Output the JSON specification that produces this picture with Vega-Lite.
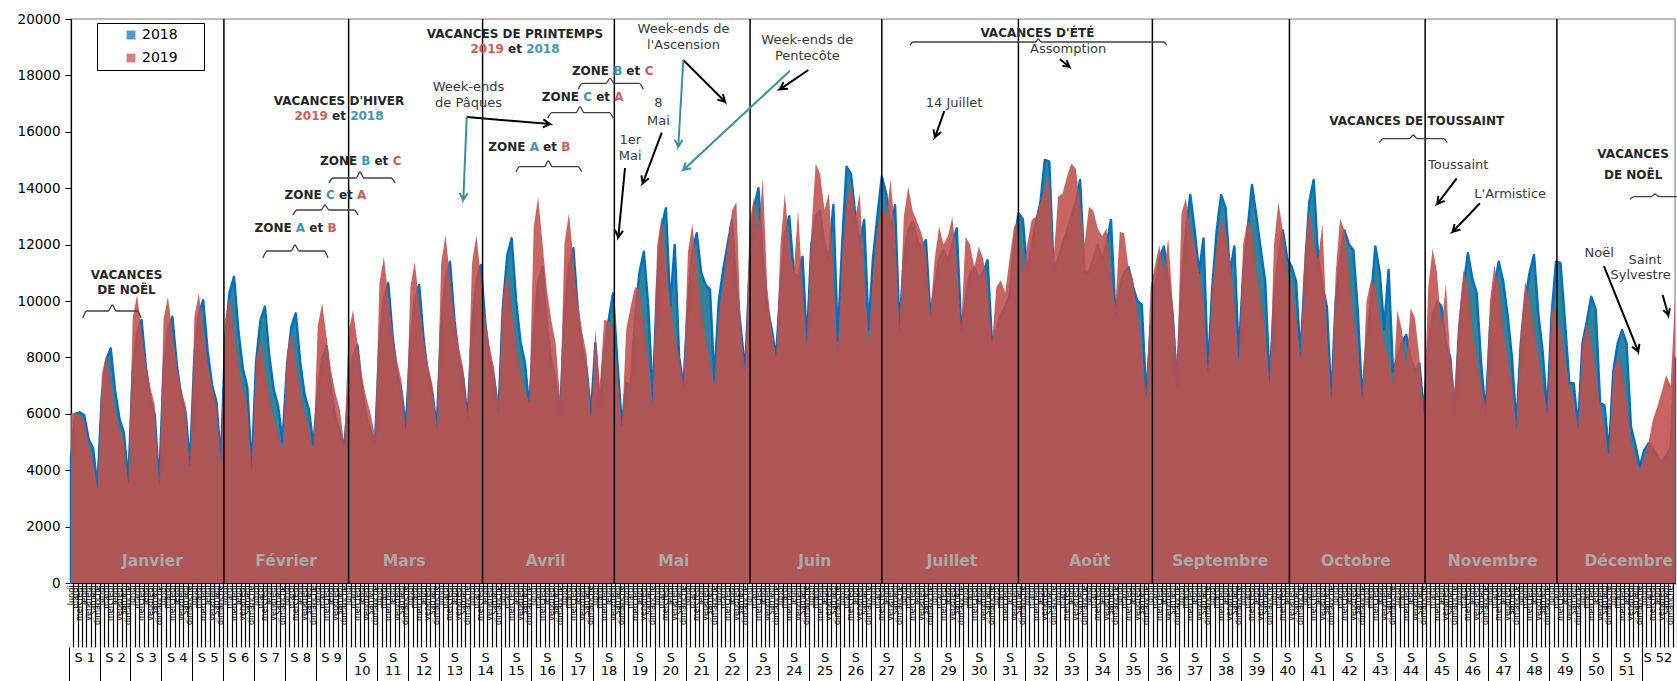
{
"$schema":"https://vega.github.io/schema/vega-lite/v6.json",
"width":1604,"height":564,
"autosize":{"type":"none"},
"padding":{"left":71,"top":19,"right":2,"bottom":98},
"background":"white",
"config":{"view":{"stroke":"#A6A6A6","strokeWidth":1.5},"font":"DejaVu Sans"},
"datasets":{
"s":[
{"d":0,"a":4480,"b":6000},{"d":1,"a":6000,"b":6050},{"d":2,"a":6050,"b":5950},{"d":3,"a":5950,"b":5800},{"d":4,"a":5100,"b":4950},{"d":5,"a":4780,"b":4300},{"d":6,"a":3400,"b":3300},
{"d":7,"a":6660,"b":7430},{"d":8,"a":7900,"b":8080},{"d":9,"a":8320,"b":7110},{"d":10,"a":6820,"b":6140},{"d":11,"a":5820,"b":5490},{"d":12,"a":5320,"b":5010},{"d":13,"a":3600,"b":3500},
{"d":14,"a":7460,"b":9390},{"d":15,"a":8860,"b":10210},{"d":16,"a":9330,"b":8980},{"d":17,"a":7650,"b":7760},{"d":18,"a":6530,"b":6940},{"d":19,"a":5970,"b":6330},{"d":20,"a":3500,"b":3400},
{"d":21,"a":7550,"b":9340},{"d":22,"a":8970,"b":10150},{"d":23,"a":9440,"b":8930},{"d":24,"a":7740,"b":7710},{"d":25,"a":6610,"b":6900},{"d":26,"a":6040,"b":6290},{"d":27,"a":4200,"b":4000},
{"d":28,"a":8020,"b":9450},{"d":29,"a":9530,"b":10270},{"d":30,"a":10030,"b":9040},{"d":31,"a":8220,"b":7810},{"d":32,"a":7020,"b":6980},{"d":33,"a":6420,"b":6370},{"d":34,"a":4300,"b":4300},
{"d":35,"a":8690,"b":9340},{"d":36,"a":10320,"b":10150},{"d":37,"a":10860,"b":8930},{"d":38,"a":8910,"b":7710},{"d":39,"a":7600,"b":6900},{"d":40,"a":6950,"b":6290},{"d":41,"a":4000,"b":4100},
{"d":42,"a":7840,"b":7930},{"d":43,"a":9310,"b":8620},{"d":44,"a":9800,"b":7590},{"d":45,"a":8040,"b":6550},{"d":46,"a":6860,"b":5860},{"d":47,"a":6270,"b":5340},{"d":48,"a":5000,"b":4700},
{"d":49,"a":7650,"b":8190},{"d":50,"a":9080,"b":8900},{"d":51,"a":9560,"b":7830},{"d":52,"a":7840,"b":6760},{"d":53,"a":6690,"b":6050},{"d":54,"a":6120,"b":5520},{"d":55,"a":4900,"b":4700},
{"d":56,"a":6720,"b":9130},{"d":57,"a":7980,"b":9920},{"d":58,"a":8400,"b":8730},{"d":59,"a":6890,"b":7540},{"d":60,"a":5880,"b":6750},{"d":61,"a":5380,"b":6150},{"d":62,"a":4800,"b":4900},
{"d":63,"a":6750,"b":8910},{"d":64,"a":8020,"b":9680},{"d":65,"a":8440,"b":8520},{"d":66,"a":6920,"b":7360},{"d":67,"a":5910,"b":6580},{"d":68,"a":5400,"b":6000},{"d":69,"a":5000,"b":5200},
{"d":70,"a":8500,"b":10640},{"d":71,"a":10100,"b":11570},{"d":72,"a":10630,"b":10180},{"d":73,"a":8720,"b":8790},{"d":74,"a":7440,"b":7870},{"d":75,"a":6800,"b":7170},{"d":76,"a":5500,"b":5300},
{"d":77,"a":8460,"b":10480},{"d":78,"a":10040,"b":11390},{"d":79,"a":10570,"b":10020},{"d":80,"a":8670,"b":8660},{"d":81,"a":7400,"b":7750},{"d":82,"a":6760,"b":7060},{"d":83,"a":5500,"b":5600},
{"d":84,"a":9110,"b":11350},{"d":85,"a":10820,"b":12340},{"d":86,"a":11390,"b":10860},{"d":87,"a":9340,"b":9380},{"d":88,"a":7970,"b":8390},{"d":89,"a":7290,"b":7650},{"d":90,"a":5800,"b":6000},
{"d":91,"a":9020,"b":11350},{"d":92,"a":10720,"b":12340},{"d":93,"a":11280,"b":10860},{"d":94,"a":9250,"b":9380},{"d":95,"a":7900,"b":8390},{"d":96,"a":7220,"b":7650},{"d":97,"a":6000,"b":6400},
{"d":98,"a":9780,"b":10160},{"d":99,"a":11610,"b":11040},{"d":100,"a":12220,"b":9720},{"d":101,"a":10020,"b":8390},{"d":102,"a":8550,"b":7510},{"d":103,"a":7820,"b":6840},{"d":104,"a":6200,"b":6400},
{"d":105,"a":8980,"b":12600},{"d":106,"a":10660,"b":13700},{"d":107,"a":11220,"b":12060},{"d":108,"a":9200,"b":10410},{"d":109,"a":7850,"b":9320},{"d":110,"a":7180,"b":8490},{"d":111,"a":6000,"b":6500},
{"d":112,"a":9500,"b":12060},{"d":113,"a":11280,"b":13110},{"d":114,"a":11870,"b":11540},{"d":115,"a":9730,"b":9960},{"d":116,"a":8310,"b":8910},{"d":117,"a":7600,"b":8130},{"d":118,"a":6000,"b":5800},
{"d":119,"a":8500,"b":9000},{"d":120,"a":6200,"b":7000},{"d":121,"a":8200,"b":9330},{"d":122,"a":9300,"b":9300},{"d":123,"a":10270,"b":9000},{"d":124,"a":7800,"b":7500},{"d":125,"a":5600,"b":5500},
{"d":126,"a":7100,"b":9000},{"d":127,"a":7000,"b":9800},{"d":128,"a":9440,"b":10500},{"d":129,"a":11000,"b":10400},{"d":130,"a":11750,"b":9000},{"d":131,"a":9800,"b":8000},{"d":132,"a":6500,"b":6300},
{"d":133,"a":10600,"b":11950},{"d":134,"a":12600,"b":12990},{"d":135,"a":13290,"b":11430},{"d":136,"a":9800,"b":9870},{"d":137,"a":11990,"b":8830},{"d":138,"a":8000,"b":8050},{"d":139,"a":7000,"b":7000},
{"d":140,"a":9920,"b":11730},{"d":141,"a":11780,"b":12750},{"d":142,"a":12400,"b":11220},{"d":143,"a":11000,"b":9690},{"d":144,"a":10570,"b":8670},{"d":145,"a":10400,"b":7900},{"d":146,"a":7200,"b":7000},
{"d":147,"a":10000,"b":9500},{"d":148,"a":11100,"b":10500},{"d":149,"a":12000,"b":12000},{"d":150,"a":12870,"b":13200},{"d":151,"a":10500,"b":13520},{"d":152,"a":9000,"b":9000},{"d":153,"a":7500,"b":7500},
{"d":154,"a":11200,"b":12800},{"d":155,"a":13300,"b":13700},{"d":156,"a":14000,"b":12500},{"d":157,"a":11500,"b":14350},{"d":158,"a":9800,"b":10500},{"d":159,"a":9000,"b":9000},{"d":160,"a":8000,"b":8000},
{"d":161,"a":10500,"b":12000},{"d":162,"a":12400,"b":13820},{"d":163,"a":13000,"b":12000},{"d":164,"a":11000,"b":11000},{"d":165,"a":10800,"b":13230},{"d":166,"a":11570,"b":10500},{"d":167,"a":8500,"b":8500},
{"d":168,"a":12000,"b":12500},{"d":169,"a":13000,"b":14880},{"d":170,"a":13200,"b":14500},{"d":171,"a":12000,"b":13230},{"d":172,"a":11500,"b":13820},{"d":173,"a":13400,"b":11000},{"d":174,"a":8600,"b":8000},
{"d":175,"a":12000,"b":11500},{"d":176,"a":14760,"b":13500},{"d":177,"a":14500,"b":14200},{"d":178,"a":13000,"b":13000},{"d":179,"a":12000,"b":13820},{"d":180,"a":12870,"b":11000},{"d":181,"a":9000,"b":8500},
{"d":182,"a":11500,"b":11000},{"d":183,"a":13000,"b":12500},{"d":184,"a":14410,"b":13400},{"d":185,"a":13800,"b":13000},{"d":186,"a":12500,"b":14290},{"d":187,"a":13400,"b":12500},{"d":188,"a":9000,"b":9000},
{"d":189,"a":11500,"b":13000},{"d":190,"a":12500,"b":14050},{"d":191,"a":12810,"b":13200},{"d":192,"a":12200,"b":12810},{"d":193,"a":11800,"b":12400},{"d":194,"a":12160,"b":11800},{"d":195,"a":9500,"b":9500},
{"d":196,"a":10500,"b":11500},{"d":197,"a":11500,"b":12640},{"d":198,"a":11800,"b":12000},{"d":199,"a":11400,"b":12300},{"d":200,"a":12000,"b":12990},{"d":201,"a":12580,"b":11500},{"d":202,"a":9000,"b":9000},
{"d":203,"a":10000,"b":12280},{"d":204,"a":11000,"b":12000},{"d":205,"a":11200,"b":11200},{"d":206,"a":10800,"b":11930},{"d":207,"a":11000,"b":11500},{"d":208,"a":11450,"b":10500},{"d":209,"a":8500,"b":8500},
{"d":210,"a":9000,"b":10500},{"d":211,"a":9500,"b":10740},{"d":212,"a":9800,"b":10300},{"d":213,"a":10200,"b":11500},{"d":214,"a":12000,"b":12640},{"d":215,"a":13110,"b":12800},{"d":216,"a":12900,"b":11000},
{"d":217,"a":11000,"b":12000},{"d":218,"a":12000,"b":12870},{"d":219,"a":12800,"b":13000},{"d":220,"a":13500,"b":13500},{"d":221,"a":15000,"b":14000},{"d":222,"a":14940,"b":14470},{"d":223,"a":11000,"b":11500},
{"d":224,"a":11500,"b":13700},{"d":225,"a":12000,"b":13800},{"d":226,"a":12500,"b":14400},{"d":227,"a":13000,"b":14880},{"d":228,"a":13500,"b":14700},{"d":229,"a":14290,"b":13500},{"d":230,"a":11000,"b":12000},
{"d":231,"a":11000,"b":13340},{"d":232,"a":11500,"b":13200},{"d":233,"a":12000,"b":12580},{"d":234,"a":11500,"b":12300},{"d":235,"a":12000,"b":12580},{"d":236,"a":12870,"b":11000},{"d":237,"a":9500,"b":9800},
{"d":238,"a":10500,"b":12460},{"d":239,"a":11000,"b":12400},{"d":240,"a":11200,"b":11160},{"d":241,"a":10500,"b":10800},{"d":242,"a":10000,"b":9500},{"d":243,"a":9860,"b":8500},{"d":244,"a":6600,"b":6500},
{"d":245,"a":9000,"b":10500},{"d":246,"a":10500,"b":11280},{"d":247,"a":11500,"b":11990},{"d":248,"a":11930,"b":11000},{"d":249,"a":10800,"b":12220},{"d":250,"a":9500,"b":10000},{"d":251,"a":7000,"b":7670},
{"d":252,"a":10500,"b":13110},{"d":253,"a":12500,"b":13640},{"d":254,"a":13760,"b":12500},{"d":255,"a":12500,"b":12000},{"d":256,"a":11000,"b":11000},{"d":257,"a":12220,"b":10000},{"d":258,"a":7500,"b":7500},
{"d":259,"a":10500,"b":10500},{"d":260,"a":12500,"b":12000},{"d":261,"a":13760,"b":12990},{"d":262,"a":13300,"b":12500},{"d":263,"a":11000,"b":11500},{"d":264,"a":11930,"b":10000},{"d":265,"a":8030,"b":7800},
{"d":266,"a":11000,"b":12000},{"d":267,"a":12500,"b":12870},{"d":268,"a":14110,"b":12500},{"d":269,"a":13000,"b":11000},{"d":270,"a":11810,"b":10000},{"d":271,"a":10690,"b":9000},{"d":272,"a":7080,"b":7000},
{"d":273,"a":10000,"b":12000},{"d":274,"a":11500,"b":13520},{"d":275,"a":12500,"b":12500},{"d":276,"a":11500,"b":11000},{"d":277,"a":11220,"b":10500},{"d":278,"a":10690,"b":9500},{"d":279,"a":8000,"b":8000},
{"d":280,"a":11000,"b":11810},{"d":281,"a":13500,"b":13290},{"d":282,"a":14290,"b":12000},{"d":283,"a":11570,"b":11500},{"d":284,"a":10500,"b":12750},{"d":285,"a":9800,"b":9000},{"d":286,"a":6500,"b":6500},
{"d":287,"a":10000,"b":11000},{"d":288,"a":11500,"b":12930},{"d":289,"a":12500,"b":12500},{"d":290,"a":12000,"b":11000},{"d":291,"a":11810,"b":9500},{"d":292,"a":9680,"b":8500},{"d":293,"a":6500,"b":6500},
{"d":294,"a":8500,"b":10000},{"d":295,"a":10000,"b":10740},{"d":296,"a":11930,"b":10500},{"d":297,"a":11000,"b":9500},{"d":298,"a":9000,"b":8500},{"d":299,"a":11100,"b":8000},{"d":300,"a":7500,"b":7000},
{"d":301,"a":8000,"b":9680},{"d":302,"a":8500,"b":9000},{"d":303,"a":8800,"b":7700},{"d":304,"a":8000,"b":9740},{"d":305,"a":7500,"b":9390},{"d":306,"a":7790,"b":8000},{"d":307,"a":6020,"b":6000},
{"d":308,"a":8500,"b":10500},{"d":309,"a":9500,"b":11870},{"d":310,"a":10000,"b":11000},{"d":311,"a":9800,"b":9000},{"d":312,"a":8500,"b":10630},{"d":313,"a":8000,"b":8000},{"d":314,"a":6000,"b":6840},
{"d":315,"a":9000,"b":9500},{"d":316,"a":10500,"b":11100},{"d":317,"a":11690,"b":10500},{"d":318,"a":10800,"b":9000},{"d":319,"a":10270,"b":8000},{"d":320,"a":7790,"b":7000},{"d":321,"a":6000,"b":6250},
{"d":322,"a":9000,"b":10000},{"d":323,"a":10500,"b":11280},{"d":324,"a":11390,"b":10500},{"d":325,"a":10700,"b":9000},{"d":326,"a":9500,"b":8000},{"d":327,"a":8000,"b":7080},{"d":328,"a":5540,"b":5500},
{"d":329,"a":8500,"b":9000},{"d":330,"a":10000,"b":10690},{"d":331,"a":11000,"b":10000},{"d":332,"a":11630,"b":9000},{"d":333,"a":9500,"b":8000},{"d":334,"a":8140,"b":7000},{"d":335,"a":6020,"b":6000},
{"d":336,"a":9500,"b":9860},{"d":337,"a":11390,"b":9500},{"d":338,"a":11350,"b":9000},{"d":339,"a":9330,"b":8000},{"d":340,"a":7080,"b":7000},{"d":341,"a":7080,"b":6500},{"d":342,"a":5500,"b":5500},
{"d":343,"a":8500,"b":8500},{"d":344,"a":9270,"b":9210},{"d":345,"a":10150,"b":8500},{"d":346,"a":9700,"b":7500},{"d":347,"a":6370,"b":6300},{"d":348,"a":6300,"b":5500},{"d":349,"a":4600,"b":4500},
{"d":350,"a":7500,"b":7500},{"d":351,"a":8500,"b":8030},{"d":352,"a":8970,"b":7500},{"d":353,"a":8500,"b":6500},{"d":354,"a":5540,"b":5000},{"d":355,"a":4890,"b":4500},{"d":356,"a":4130,"b":4000},
{"d":357,"a":4700,"b":4500},{"d":358,"a":4950,"b":5000},{"d":359,"a":4800,"b":5800},{"d":360,"a":4500,"b":6250},{"d":361,"a":4300,"b":6800},{"d":362,"a":4500,"b":7380},{"d":363,"a":4800,"b":7000},
{"d":364,"a":7970,"b":10090}
],
"months":[{"x":34.7},{"x":63.0},{"x":93.4},{"x":123.3},{"x":154.1},{"x":184.0},{"x":215.0},{"x":245.4},{"x":276.5},{"x":307.3},{"x":337.2}],
"ann":[
{"t":"VACANCES D'HIVER","x":60.82,"y":17092,"k":"b"},
{"t":"2019","x":54.5,"y":16560,"k":"br"},{"t":"et","x":60.82,"y":16560,"k":"b"},{"t":"2018","x":67.14,"y":16560,"k":"bt"},
{"t":"ZONE","x":60.73,"y":14964,"k":"b"},{"t":"B","x":66.92,"y":14964,"k":"bt"},{"t":"et","x":70.44,"y":14964,"k":"b"},{"t":"C","x":74.02,"y":14964,"k":"br"},
{"t":"ZONE","x":52.69,"y":13769,"k":"b"},{"t":"C","x":58.85,"y":13769,"k":"bt"},{"t":"et","x":62.38,"y":13769,"k":"b"},{"t":"A","x":65.97,"y":13769,"k":"br"},
{"t":"ZONE","x":45.86,"y":12588,"k":"b"},{"t":"A","x":52.08,"y":12588,"k":"bt"},{"t":"et","x":55.65,"y":12588,"k":"b"},{"t":"B","x":59.23,"y":12588,"k":"br"},
{"t":"VACANCES","x":12.6,"y":10922,"k":"b"},{"t":"DE NOËL","x":12.6,"y":10390,"k":"b"},
{"t":"VACANCES DE PRINTEMPS","x":100.76,"y":19478,"k":"b"},
{"t":"2019","x":94.44,"y":18936,"k":"br"},{"t":"et","x":100.76,"y":18936,"k":"b"},{"t":"2018","x":107.08,"y":18936,"k":"bt"},
{"t":"ZONE","x":117.89,"y":18166,"k":"b"},{"t":"B","x":124.08,"y":18166,"k":"bt"},{"t":"et","x":127.6,"y":18166,"k":"b"},{"t":"C","x":131.18,"y":18166,"k":"br"},
{"t":"ZONE","x":111.06,"y":17234,"k":"b"},{"t":"C","x":117.22,"y":17234,"k":"bt"},{"t":"et","x":120.75,"y":17234,"k":"b"},{"t":"A","x":124.34,"y":17234,"k":"br"},
{"t":"ZONE","x":98.92,"y":15450,"k":"b"},{"t":"A","x":105.14,"y":15450,"k":"bt"},{"t":"et","x":108.71,"y":15450,"k":"b"},{"t":"B","x":112.29,"y":15450,"k":"br"},
{"t":"VACANCES D'ÉTÉ","x":219.3,"y":19513,"k":"b"},
{"t":"VACANCES DE TOUSSAINT","x":305.4,"y":16383,"k":"b"},
{"t":"VACANCES","x":354.5,"y":15199,"k":"b"},{"t":"DE NOËL","x":354.5,"y":14468,"k":"b"},
{"t":"Week-ends","x":90.2,"y":17588,"k":"r"},{"t":"de Pâques","x":90.2,"y":17021,"k":"r"},
{"t":"1er","x":126.9,"y":15709,"k":"r"},{"t":"Mai","x":126.9,"y":15141,"k":"r"},
{"t":"8","x":133.3,"y":17021,"k":"r"},{"t":"Mai","x":133.3,"y":16383,"k":"r"},
{"t":"Week-ends de","x":139.0,"y":19655,"k":"r"},{"t":"l'Ascension","x":139.0,"y":19077,"k":"r"},
{"t":"Week-ends de","x":167.1,"y":19265,"k":"r"},{"t":"Pentecôte","x":167.1,"y":18687,"k":"r"},
{"t":"Assomption","x":226.3,"y":18925,"k":"r"},
{"t":"14 Juillet","x":200.4,"y":17021,"k":"r"},
{"t":"Toussaint","x":314.8,"y":14812,"k":"r"},
{"t":"L'Armistice","x":326.6,"y":13805,"k":"r"},
{"t":"Noël","x":346.8,"y":11702,"k":"r"},
{"t":"Saint","x":357.2,"y":11454,"k":"r"},{"t":"Sylvestre","x":356.2,"y":10922,"k":"r"},
{"t":"Janvier","x":18.5,"y":780,"k":"m"},{"t":"Février","x":48.8,"y":780,"k":"m"},{"t":"Mars","x":75.6,"y":780,"k":"m"},{"t":"Avril","x":107.7,"y":780,"k":"m"},{"t":"Mai","x":136.8,"y":780,"k":"m"},{"t":"Juin","x":168.8,"y":780,"k":"m"},{"t":"Juillet","x":199.9,"y":780,"k":"m"},{"t":"Août","x":231.2,"y":780,"k":"m"},{"t":"Septembre","x":260.8,"y":780,"k":"m"},{"t":"Octobre","x":291.6,"y":780,"k":"m"},{"t":"Novembre","x":322.6,"y":780,"k":"m"},{"t":"Décembre","x":353.5,"y":780,"k":"m"}
],
"br":[
{"g":"B1","o":0,"x":58.55,"y":14184},{"g":"B1","o":1,"x":59.46,"y":14361},{"g":"B1","o":2,"x":64.68,"y":14361},{"g":"B1","o":3,"x":65.58,"y":14574},{"g":"B1","o":4,"x":66.49,"y":14361},{"g":"B1","o":5,"x":72.62,"y":14361},{"g":"B1","o":6,"x":73.53,"y":14184},
{"g":"B2","o":0,"x":50.38,"y":13049},{"g":"B2","o":1,"x":51.29,"y":13227},{"g":"B2","o":2,"x":56.73,"y":13227},{"g":"B2","o":3,"x":57.64,"y":13404},{"g":"B2","o":4,"x":58.55,"y":13227},{"g":"B2","o":5,"x":64.22,"y":13227},{"g":"B2","o":6,"x":65.13,"y":13049},
{"g":"B3","o":0,"x":43.57,"y":11525},{"g":"B3","o":1,"x":44.48,"y":11773},{"g":"B3","o":2,"x":49.92,"y":11773},{"g":"B3","o":3,"x":50.83,"y":11985},{"g":"B3","o":4,"x":51.74,"y":11773},{"g":"B3","o":5,"x":57.41,"y":11773},{"g":"B3","o":6,"x":58.32,"y":11525},
{"g":"B4","o":0,"x":2.66,"y":9397},{"g":"B4","o":1,"x":3.56,"y":9645},{"g":"B4","o":2,"x":8.46,"y":9645},{"g":"B4","o":3,"x":9.37,"y":9858},{"g":"B4","o":4,"x":10.28,"y":9645},{"g":"B4","o":5,"x":14.98,"y":9645},{"g":"B4","o":6,"x":15.89,"y":9397},
{"g":"B5","o":0,"x":115.12,"y":17507},{"g":"B5","o":1,"x":116.03,"y":17719},{"g":"B5","o":2,"x":121.41,"y":17719},{"g":"B5","o":3,"x":122.32,"y":17897},{"g":"B5","o":4,"x":123.22,"y":17719},{"g":"B5","o":5,"x":128.96,"y":17719},{"g":"B5","o":6,"x":129.87,"y":17507},
{"g":"B6","o":0,"x":108.18,"y":16478},{"g":"B6","o":1,"x":109.09,"y":16677},{"g":"B6","o":2,"x":114.6,"y":16677},{"g":"B6","o":3,"x":115.51,"y":16890},{"g":"B6","o":4,"x":116.42,"y":16677},{"g":"B6","o":5,"x":122.16,"y":16677},{"g":"B6","o":6,"x":123.06,"y":16478},
{"g":"B7","o":0,"x":100.98,"y":14585},{"g":"B7","o":1,"x":101.89,"y":14762},{"g":"B7","o":2,"x":107.4,"y":14762},{"g":"B7","o":3,"x":108.31,"y":14964},{"g":"B7","o":4,"x":109.22,"y":14762},{"g":"B7","o":5,"x":114.99,"y":14762},{"g":"B7","o":6,"x":115.89,"y":14585},
{"g":"B8","o":0,"x":190.4,"y":19077},{"g":"B8","o":1,"x":191.08,"y":19184},{"g":"B8","o":2,"x":218.83,"y":19184},{"g":"B8","o":3,"x":219.51,"y":19290},{"g":"B8","o":4,"x":220.2,"y":19184},{"g":"B8","o":5,"x":247.96,"y":19184},{"g":"B8","o":6,"x":248.65,"y":19077},
{"g":"B9","o":0,"x":296.89,"y":15613},{"g":"B9","o":1,"x":297.8,"y":15755},{"g":"B9","o":2,"x":303.7,"y":15755},{"g":"B9","o":3,"x":304.61,"y":15886},{"g":"B9","o":4,"x":305.52,"y":15755},{"g":"B9","o":5,"x":311.42,"y":15755},{"g":"B9","o":6,"x":312.33,"y":15613},
{"g":"B10","o":0,"x":353.78,"y":13606},{"g":"B10","o":1,"x":354.69,"y":13698},{"g":"B10","o":2,"x":358.55,"y":13698},{"g":"B10","o":3,"x":359.46,"y":13794},{"g":"B10","o":4,"x":360.36,"y":13698},{"g":"B10","o":5,"x":366.49,"y":13698},{"g":"B10","o":6,"x":367.4,"y":13606}
],
"arr":[
{"g":"A1","c":"t","o":0,"x":89.8,"y":16524},{"g":"A1","c":"t","o":1,"x":89.03,"y":13581},{"g":"A1","c":"t","o":2,"x":90.0,"y":13822},{"g":"A1","c":"t","o":3,"x":89.03,"y":13581},{"g":"A1","c":"t","o":4,"x":88.19,"y":13833},
{"g":"A2","c":"k","o":0,"x":89.8,"y":16524},{"g":"A2","c":"k","o":1,"x":108.7,"y":16276},{"g":"A2","c":"k","o":2,"x":107.2,"y":16439},{"g":"A2","c":"k","o":3,"x":108.7,"y":16276},{"g":"A2","c":"k","o":4,"x":107.07,"y":16156},
{"g":"A3","c":"k","o":0,"x":125.72,"y":14716},{"g":"A3","c":"k","o":1,"x":124.2,"y":12259},{"g":"A3","c":"k","o":2,"x":125.27,"y":12489},{"g":"A3","c":"k","o":3,"x":124.2,"y":12259},{"g":"A3","c":"k","o":4,"x":123.45,"y":12517},
{"g":"A4","c":"k","o":0,"x":134.05,"y":15968},{"g":"A4","c":"k","o":1,"x":129.74,"y":14173},{"g":"A4","c":"k","o":2,"x":131.14,"y":14354},{"g":"A4","c":"k","o":3,"x":129.74,"y":14173},{"g":"A4","c":"k","o":4,"x":129.44,"y":14454},
{"g":"A5","c":"t","o":0,"x":138.95,"y":18546},{"g":"A5","c":"t","o":1,"x":137.81,"y":15471},{"g":"A5","c":"t","o":2,"x":138.81,"y":15709},{"g":"A5","c":"t","o":3,"x":137.81,"y":15471},{"g":"A5","c":"t","o":4,"x":137.0,"y":15723},
{"g":"A6","c":"k","o":0,"x":138.95,"y":18546},{"g":"A6","c":"k","o":1,"x":148.41,"y":17067},{"g":"A6","c":"k","o":2,"x":147.94,"y":17340},{"g":"A6","c":"k","o":3,"x":148.41,"y":17067},{"g":"A6","c":"k","o":4,"x":146.67,"y":17141},
{"g":"A7","c":"t","o":0,"x":163.16,"y":18166},{"g":"A7","c":"t","o":1,"x":138.95,"y":14645},{"g":"A7","c":"t","o":2,"x":140.72,"y":14709},{"g":"A7","c":"t","o":3,"x":138.95,"y":14645},{"g":"A7","c":"t","o":4,"x":139.47,"y":14915},
{"g":"A8","c":"k","o":0,"x":167.32,"y":18191},{"g":"A8","c":"k","o":1,"x":160.89,"y":17507},{"g":"A8","c":"k","o":2,"x":162.71,"y":17528},{"g":"A8","c":"k","o":3,"x":160.89,"y":17507},{"g":"A8","c":"k","o":4,"x":161.69,"y":17762},
{"g":"A9","c":"k","o":0,"x":224.43,"y":18570},{"g":"A9","c":"k","o":1,"x":226.55,"y":18308},{"g":"A9","c":"k","o":2,"x":225.95,"y":18539},{"g":"A9","c":"k","o":3,"x":226.55,"y":18308},{"g":"A9","c":"k","o":4,"x":224.98,"y":18343},
{"g":"A10","c":"k","o":0,"x":198.18,"y":16737},{"g":"A10","c":"k","o":1,"x":196.07,"y":15805},{"g":"A10","c":"k","o":2,"x":197.45,"y":15989},{"g":"A10","c":"k","o":3,"x":196.07,"y":15805},{"g":"A10","c":"k","o":4,"x":195.73,"y":16085},
{"g":"A11","c":"k","o":0,"x":314.46,"y":14351},{"g":"A11","c":"k","o":1,"x":310.06,"y":13439},{"g":"A11","c":"k","o":2,"x":311.74,"y":13549},{"g":"A11","c":"k","o":3,"x":310.06,"y":13439},{"g":"A11","c":"k","o":4,"x":310.28,"y":13719},
{"g":"A12","c":"k","o":0,"x":319.74,"y":13464},{"g":"A12","c":"k","o":1,"x":313.55,"y":12457},{"g":"A12","c":"k","o":2,"x":315.3,"y":12535},{"g":"A12","c":"k","o":3,"x":313.55,"y":12457},{"g":"A12","c":"k","o":4,"x":313.98,"y":12734},
{"g":"A13","c":"k","o":0,"x":347.88,"y":11241},{"g":"A13","c":"k","o":1,"x":355.67,"y":8202},{"g":"A13","c":"k","o":2,"x":355.92,"y":8482},{"g":"A13","c":"k","o":3,"x":355.67,"y":8202},{"g":"A13","c":"k","o":4,"x":354.24,"y":8376},
{"g":"A14","c":"k","o":0,"x":361.2,"y":10212},{"g":"A14","c":"k","o":1,"x":362.48,"y":9503},{"g":"A14","c":"k","o":2,"x":362.86,"y":9744},{"g":"A14","c":"k","o":3,"x":362.48,"y":9503},{"g":"A14","c":"k","o":4,"x":361.34,"y":9677}
],
"leg":[{"s":"2018"},{"s":"2019"}]
},
"layer":[
{"data":{"name":"s"},
 "mark":{"type":"area","fill":"#31849B","stroke":"#0070C0","strokeWidth":2.5,"strokeJoin":"round"},
 "encoding":{
  "x":{"field":"d","type":"quantitative","scale":{"domain":[0,364],"nice":false,"zero":false},
       "axis":{"orient":"bottom","tickCount":365,"labelExpr":"datum.value > 363 ? '' : ['lundi','mardi','mercredi','jeudi','vendredi','samedi','dimanche'][datum.value % 7]","labelAngle":-90,"labelFontSize":8,"labelFont":"DejaVu Sans","labelColor":"black","labelPadding":-62,"labelOverlap":false,"labelFlush":false,"labelBound":false,"tickSize":64,"tickColor":"black","tickWidth":1.2,"tickOffset":2.2,"labelOffset":-2.2,"domainColor":"black","domainWidth":1,"grid":false,"title":null,"zindex":1}},
  "y":{"field":"a","type":"quantitative","scale":{"domain":[0,20000],"nice":false},
       "axis":{"values":[0,2000,4000,6000,8000,10000,12000,14000,16000,18000,20000],"format":"d","labelFont":"DejaVu Sans","labelFontSize":13.5,"labelColor":"black","tickSize":6,"tickColor":"black","labelPadding":5,"domainColor":"black","domainWidth":1.2,"grid":false,"title":null}}
 }},
{"data":{"name":"s"},
 "mark":{"type":"area","color":"#C0504D","opacity":0.88},
 "encoding":{
  "x":{"field":"d","type":"quantitative","scale":{"domain":[0,364],"nice":false,"zero":false},
       "axis":{"orient":"bottom","offset":64,"values":[3,10,17,24,31,38,45,52,59,66,73,80,87,94,101,108,115,122,129,136,143,150,157,164,171,178,185,192,199,206,213,220,227,234,241,248,255,262,269,276,283,290,297,304,311,318,325,332,339,346,353,360],
       "labelExpr":"datum.value < 63 ? 'S ' + (floor(datum.value / 7) + 1) : (datum.value > 355 ? 'S 52' : ['S', '' + (floor(datum.value / 7) + 1)])",
       "labelAngle":0,"labelFontSize":13,"labelFont":"DejaVu Sans","labelColor":"black","labelPadding":-36,"labelBaseline":"top","labelLineHeight":13,"labelOverlap":false,"labelFlush":false,"labelBound":false,"tickSize":40,"tickColor":"black","tickWidth":1,"tickOffset":-15.42,"labelOffset":15.42,"domain":false,"grid":false,"title":null}},
  "y":{"field":"b","type":"quantitative","scale":{"domain":[0,20000],"nice":false},"axis":null}
 }},
{"data":{"name":"months"},
 "mark":{"type":"rule","color":"black","strokeWidth":1.5},
 "encoding":{"x":{"field":"x","type":"quantitative","scale":{"domain":[0,364],"nice":false,"zero":false},"axis":null}}},
{"data":{"name":"ann"},"transform":[{"filter":"datum.k == 'm'"}],
 "mark":{"type":"text","font":"DejaVu Sans","fontWeight":"bold","fontSize":15.5,"color":"#A9A9A9"},
 "encoding":{"x":{"field":"x","type":"quantitative","scale":{"domain":[0,364],"nice":false,"zero":false},"axis":null},
  "y":{"field":"y","type":"quantitative","scale":{"domain":[0,20000],"nice":false},"axis":null},
  "text":{"field":"t"}}},
{"data":{"name":"br"},
 "mark":{"type":"line","color":"#404040","strokeWidth":1.3,"interpolate":"monotone"},
 "encoding":{"x":{"field":"x","type":"quantitative","scale":{"domain":[0,364],"nice":false,"zero":false},"axis":null},
  "y":{"field":"y","type":"quantitative","scale":{"domain":[0,20000],"nice":false},"axis":null},
  "detail":{"field":"g"},"order":{"field":"o","type":"quantitative"}}},
{"data":{"name":"arr"},"transform":[{"filter":"datum.c == 'k'"}],
 "mark":{"type":"line","color":"black","strokeWidth":2},
 "encoding":{"x":{"field":"x","type":"quantitative","scale":{"domain":[0,364],"nice":false,"zero":false},"axis":null},
  "y":{"field":"y","type":"quantitative","scale":{"domain":[0,20000],"nice":false},"axis":null},
  "detail":{"field":"g"},"order":{"field":"o","type":"quantitative"}}},
{"data":{"name":"arr"},"transform":[{"filter":"datum.c == 't'"}],
 "mark":{"type":"line","color":"#3A8FA8","strokeWidth":2},
 "encoding":{"x":{"field":"x","type":"quantitative","scale":{"domain":[0,364],"nice":false,"zero":false},"axis":null},
  "y":{"field":"y","type":"quantitative","scale":{"domain":[0,20000],"nice":false},"axis":null},
  "detail":{"field":"g"},"order":{"field":"o","type":"quantitative"}}},
{"data":{"name":"ann"},"transform":[{"filter":"datum.k == 'b'"}],
 "mark":{"type":"text","font":"DejaVu Sans","fontWeight":"bold","fontSize":12,"color":"#262626"},
 "encoding":{"x":{"field":"x","type":"quantitative","scale":{"domain":[0,364],"nice":false,"zero":false},"axis":null},
  "y":{"field":"y","type":"quantitative","scale":{"domain":[0,20000],"nice":false},"axis":null},
  "text":{"field":"t"}}},
{"data":{"name":"ann"},"transform":[{"filter":"datum.k == 'bt'"}],
 "mark":{"type":"text","font":"DejaVu Sans","fontWeight":"bold","fontSize":12,"color":"#3E98B2"},
 "encoding":{"x":{"field":"x","type":"quantitative","scale":{"domain":[0,364],"nice":false,"zero":false},"axis":null},
  "y":{"field":"y","type":"quantitative","scale":{"domain":[0,20000],"nice":false},"axis":null},
  "text":{"field":"t"}}},
{"data":{"name":"ann"},"transform":[{"filter":"datum.k == 'br'"}],
 "mark":{"type":"text","font":"DejaVu Sans","fontWeight":"bold","fontSize":12,"color":"#D55A57"},
 "encoding":{"x":{"field":"x","type":"quantitative","scale":{"domain":[0,364],"nice":false,"zero":false},"axis":null},
  "y":{"field":"y","type":"quantitative","scale":{"domain":[0,20000],"nice":false},"axis":null},
  "text":{"field":"t"}}},
{"data":{"name":"ann"},"transform":[{"filter":"datum.k == 'r'"}],
 "mark":{"type":"text","font":"DejaVu Sans","fontSize":13,"color":"#3A3A3A"},
 "encoding":{"x":{"field":"x","type":"quantitative","scale":{"domain":[0,364],"nice":false,"zero":false},"axis":null},
  "y":{"field":"y","type":"quantitative","scale":{"domain":[0,20000],"nice":false},"axis":null},
  "text":{"field":"t"}}},
{"data":{"name":"leg"},"transform":[{"filter":"datum.s == 'none'"}],
 "mark":{"type":"square"},
 "encoding":{"color":{"field":"s","type":"nominal","scale":{"domain":["2018","2019"],"range":["#0070C0","#C0504D"]},
   "legend":{"orient":"none","legendX":26,"legendY":4,"title":null,"strokeColor":"black","fillColor":"white","padding":5,"symbolType":"square","symbolSize":80,"symbolStrokeWidth":0,"symbolOffset":22,"labelFont":"DejaVu Sans","labelFontSize":14,"labelColor":"black","rowPadding":9,"labelExpr":"datum.label + '\u2800\u2800'"}}}}
],
"resolve":{"axis":{"x":"independent","y":"independent"}}
}
